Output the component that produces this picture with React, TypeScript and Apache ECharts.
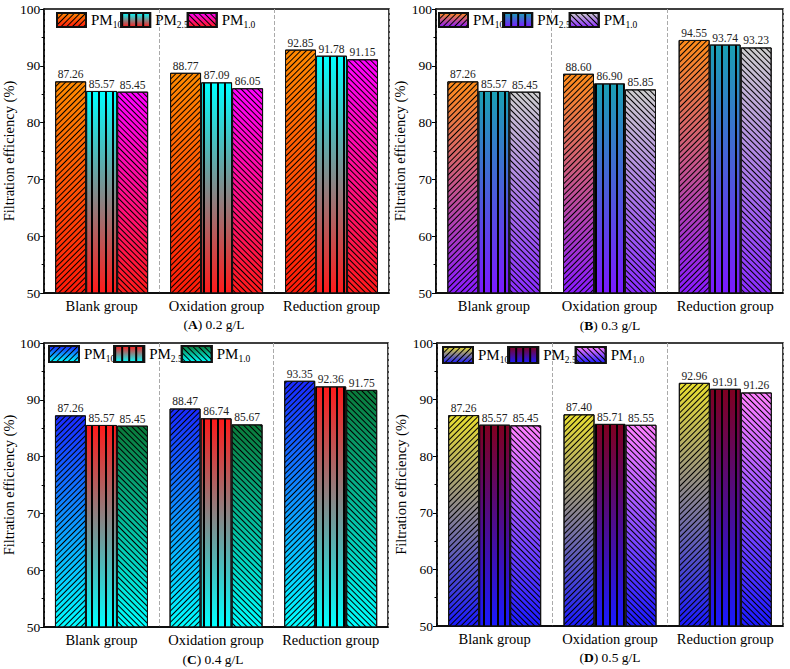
import { useEffect, useRef } from 'react';
import * as echarts from 'echarts';

// ---- data ----
const categories = ['Blank group', 'Oxidation group', 'Reduction group'];
const pollutants = ['PM10', 'PM2.5', 'PM1.0'];
const panelLetters = ['A', 'B', 'C', 'D'];
const dosages = ['0.2 g/L', '0.3 g/L', '0.4 g/L', '0.5 g/L'];
const yTickMin = 50;
const yTickMax = 100;
const yTickStep = 10;

const pm10A = [87.26, 88.77, 92.85];
const pm25A = [85.57, 87.09, 91.78];
const pm1A = [85.45, 86.05, 91.15];

const pm10B = [87.26, 88.6, 94.55];
const pm25B = [85.57, 86.9, 93.74];
const pm1B = [85.45, 85.85, 93.23];

const pm10C = [87.26, 88.47, 93.35];
const pm25C = [85.57, 86.74, 92.36];
const pm1C = [85.45, 85.67, 91.75];

const pm10D = [87.26, 87.4, 92.96];
const pm25D = [85.57, 85.71, 91.91];
const pm1D = [85.45, 85.55, 91.26];

const panelValues = [
  [pm10A, pm25A, pm1A],
  [pm10B, pm25B, pm1B],
  [pm10C, pm25C, pm1C],
  [pm10D, pm25D, pm1D],
];

// ---- styles ----
const FONT = 'Liberation Serif';

const gradientColors = [
  [['#FF8A00', '#FF1A0A'], ['#00FFFF', '#FF1A1A'], ['#FF00FF', '#FF1A1A']],
  [['#FF8C1A', '#8A1AFF'], ['#1AA0B4', '#7A1AFF'], ['#CDCDCD', '#8A2BFF']],
  [['#1A2AFF', '#00FFFF'], ['#FF1A1A', '#00FFFF'], ['#0A7A3A', '#00FFFF']],
  [['#E8DE30', '#1A1AFF'], ['#800020', '#1A1AFF'], ['#FF80FF', '#1A1AFF']],
];

const grids = [
  { left: 39, top: 9, width: 350, height: 284 },
  { left: 436, top: 9, width: 347, height: 284 },
  { left: 39, top: 343, width: 349, height: 284 },
  { left: 437, top: 343, width: 346, height: 283 },
];

const legendPos = [
  { left: 56, top: 12, w: 29, h: 14 },
  { left: 438, top: 12, w: 29, h: 14 },
  { left: 48, top: 345, w: 30, h: 16 },
  { left: 442, top: 346, w: 30, h: 16 },
];

const captionPos = [
  { x: 214, y: 324 },
  { x: 610, y: 325 },
  { x: 213, y: 659 },
  { x: 610, y: 657 },
];

const decals = [
  { symbol: 'rect', symbolSize: 1, color: '#000', dashArrayX: [1, 0], dashArrayY: [0.9, 2.6], rotation: -Math.PI / 4 },
  { symbol: 'rect', symbolSize: 1, color: '#000', dashArrayX: [1.3, 4.7], dashArrayY: [1, 0], rotation: 0 },
  { symbol: 'rect', symbolSize: 1, color: '#000', dashArrayX: [1, 0], dashArrayY: [0.9, 2.6], rotation: Math.PI / 4 },
];

function subName(p: string) {
  return { main: 'PM', sub: p.slice(2) };
}

export default function App() {
  const ref = useRef<HTMLDivElement>(null);
  useEffect(() => {
    if (!ref.current) return;
    const chart = echarts.init(ref.current, undefined, { renderer: 'svg' });

    const xAxis: any[] = [];
    const yAxis: any[] = [];
    const legend: any[] = [];
    const series: any[] = [];
    const graphic: any[] = [];

    panelLetters.forEach((L, i) => {
      xAxis.push({
        type: 'category',
        gridIndex: i,
        data: categories,
        axisLine: { show: true, lineStyle: { color: '#000', width: 1.5 } },
        axisTick: { show: true, inside: true, alignWithLabel: true, interval: 0, length: 4, lineStyle: { color: '#000', width: 1.5 } },
        axisLabel: { color: '#000', fontSize: 14.5, fontFamily: FONT, margin: 5, interval: 0 },
        splitLine: {
          show: true,
          interval: 0,
          lineStyle: { color: '#aaa', type: 'dashed', width: 1 },
        },
      });
      yAxis.push({
        type: 'value',
        gridIndex: i,
        min: yTickMin,
        max: yTickMax,
        interval: yTickStep,
        name: 'Filtration efficiency (%)',
        nameLocation: 'middle',
        nameGap: 21,
        nameTextStyle: { color: '#000', fontSize: 14.5, fontFamily: FONT },
        axisLine: { show: true, lineStyle: { color: '#000', width: 1.5 } },
        axisTick: { show: true, inside: false, length: 4, lineStyle: { color: '#000', width: 1 } },
        minorTick: { show: true, splitNumber: 2, length: 2.5, lineStyle: { color: '#000', width: 1 } },
        axisLabel: { color: '#000', fontSize: 13.5, fontFamily: FONT, margin: 4 },
        splitLine: { show: false },
      });

      const lp = legendPos[i];
      legend.push({
        data: pollutants.map((p) => `${L}_${p}`),
        left: lp.left,
        top: lp.top,
        orient: 'horizontal',
        icon: 'rect',
        itemWidth: lp.w,
        itemHeight: lp.h,
        itemGap: -2,
        padding: 0,
        selectedMode: false,
        formatter: (name: string) => {
          const p = name.split('_')[1];
          const s = subName(p);
          return `{m|${s.main}}{s|${s.sub}}`;
        },
        textStyle: {
          fontFamily: FONT,
          color: '#000',
          rich: {
            m: { fontSize: 15, fontFamily: FONT, color: '#000' },
            s: { fontSize: 9.5, fontFamily: FONT, color: '#000', padding: [9, 0, 0, 0] },
          },
        },
      });

      pollutants.forEach((p, j) => {
        const [c0, c1] = gradientColors[i][j];
        series.push({
          type: 'bar',
          name: `${L}_${p}`,
          xAxisIndex: i,
          yAxisIndex: i,
          data: panelValues[i][j],
          barWidth: 31,
          barGap: '0%',
          itemStyle: {
            color: new echarts.graphic.LinearGradient(0, 0, 0, 1, [
              { offset: 0, color: c0 },
              { offset: 1, color: c1 },
            ]),
            borderColor: '#111',
            borderWidth: 1,
            decal: decals[j],
          },
          label: {
            show: true,
            position: 'top',
            distance: 1,
            fontSize: 11.5,
            fontFamily: FONT,
            color: '#222',
            formatter: (prm: any) => Number(prm.value).toFixed(2),
          },
        });
      });

      const cp = captionPos[i];
      graphic.push({
        type: 'text',
        x: cp.x,
        y: cp.y,
        style: {
          text: `{n|(}{b|${L}}{n|) ${dosages[i]}}`,
          align: 'center',
          verticalAlign: 'middle',
          rich: {
            n: { fontSize: 13.5, fontFamily: FONT, fill: '#000', color: '#000' },
            b: { fontSize: 13.5, fontFamily: FONT, fontWeight: 'bold', fill: '#000', color: '#000' },
          },
        },
      });
    });

    chart.setOption({
      animation: false,
      backgroundColor: '#fff',
      textStyle: { fontFamily: FONT },
      aria: { enabled: true, decal: { show: true } },
      grid: grids.map((g) => ({ ...g, show: true, borderColor: '#000', borderWidth: 1.5, backgroundColor: 'transparent' })),
      xAxis,
      yAxis,
      legend,
      series,
      graphic,
    });
    return () => chart.dispose();
  }, []);
  return <div ref={ref} style={{ position: 'fixed', left: 0, top: 0, width: 790, height: 669 }} />;
}
